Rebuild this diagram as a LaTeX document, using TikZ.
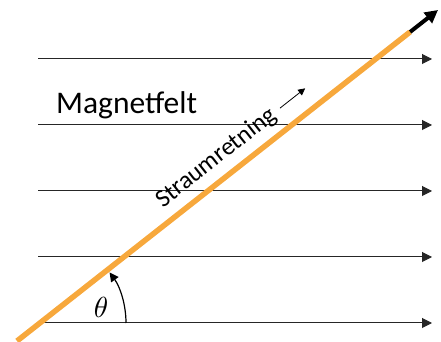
\documentclass[tikz,border=0pt]{standalone}
\usepackage{fontspec}
\setmainfont{Carlito}
\usetikzlibrary{arrows.meta, calc}
\definecolor{straumfarge}{RGB}{247,168,60}
\tikzset{
  feltlinje/.style={black!85, line width=1pt, -{Triangle[length=10pt,width=10pt]}},
  straumlinje/.style={straumfarge, line width=5.5pt},
  vinkelpil/.style={black, line width=1.2pt, -{Triangle[length=9pt,width=9pt]}}
}

\begin{document}
\begin{tikzpicture}[x=1pt, y=1pt]
  \useasboundingbox (0,0) rectangle (441,342);
  % magnetfeltlinjer
  \foreach \y [count=\i] in {283,217,151,85,19} {
    \coordinate (fa\i) at (38,\y);
    \coordinate (fb\i) at (432,\y);
    \draw[feltlinje] (fa\i) -- (fb\i);
  }
  \node[anchor=base west, inner sep=0pt, font=\fontsize{31.5}{36}\selectfont] (felt) at (56,228) {Magnetfelt};
  % leiaren
  \coordinate (s0) at (17,1);
  \coordinate (s1) at (410,310);
  \coordinate (p0) at (398,300.5);
  \coordinate (p1) at (438,332);
  \draw[black, line width=4pt, -{Triangle[length=13pt,width=13pt]}] (p0) -- (p1);
  \draw[straumlinje] (s0) -- node[pos=0.54, sloped, above=7pt, inner sep=0pt, text=black,
    font=\fontsize{25}{30}\selectfont] (retn) {Straumretning} (s1);
  \path (retn.east) ++(38.2:5pt) coordinate (r0) ++(38.2:32pt) coordinate (r1);
  \draw[black, line width=0.8pt, -{Triangle[length=7pt,width=7pt]}] (r0) -- (r1);
  % vinkel
  \coordinate (v0) at (40,19);
  \draw[vinkelpil] (126,19) arc[start angle=0, end angle=36, radius=86];
  \node[scale=2.9, inner sep=0pt] (theta) at (101,35) {$\theta$};
\end{tikzpicture}
\end{document}
